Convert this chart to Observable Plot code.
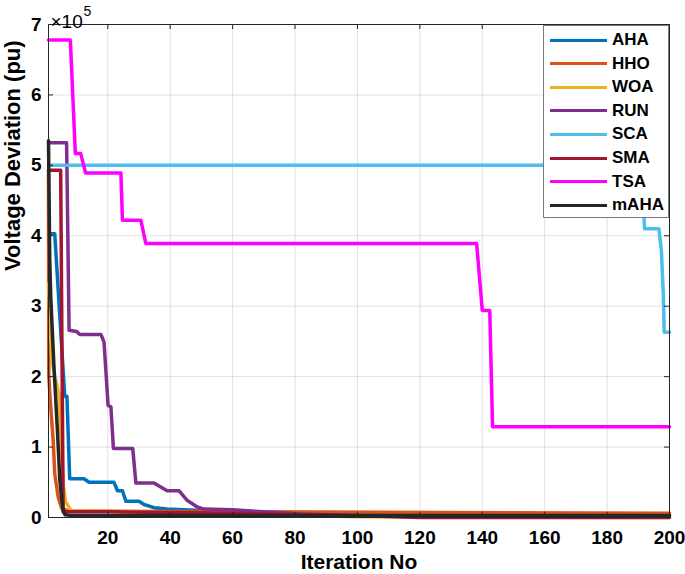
<!DOCTYPE html>
<html><head><meta charset="utf-8">
<script src="https://cdn.jsdelivr.net/npm/d3@7"></script>
<script src="https://cdn.jsdelivr.net/npm/@observablehq/plot@0.6"></script>
<style>
body{margin:0;background:#fff;font-family:"Liberation Sans",Arial,sans-serif;}
#wrap{position:relative;width:685px;height:574px;}
#legend{position:absolute;left:543px;top:25px;width:126px;height:193px;border:1px solid #7a7a7a;background:#fff;box-sizing:border-box;}
.sw{position:absolute;left:6px;width:57px;height:3px;}
.lab{position:absolute;left:68px;font-weight:bold;font-size:17px;color:#000;line-height:20px;white-space:nowrap;}
</style></head>
<body><div id="wrap"></div>
<script>
// Tick values
const iterTicks = [20,40,60,80,100,120,140,160,180,200];
const devTicks = [0,1,2,3,4,5,6,7];
const xLabel = "Iteration No";
const yLabel = "Voltage Deviation (pu)";
const expBase = "×10";
const expPow = "5";

// Series: [iteration, voltage deviation (×10^5)]
const AHA = [[1,4.03],[3,4.03],[6.2,1.72],[6.9,1.72],[7.8,0.55],[12.4,0.55],[14,0.50],[22,0.50],[23.1,0.38],[24.7,0.38],[25.8,0.23],[30,0.23],[31.6,0.185],[34.8,0.14],[39,0.12],[50,0.10],[60,0.05],[80,0.03],[200,0.03]];
const HHO = [[1,4.93],[1.1,2.0],[1.5,1.7],[2.5,1.09],[3,0.62],[4.1,0.29],[5.2,0.13],[7,0.10],[20,0.09],[200,0.06]];
const WOA = [[1,3.32],[2,2.28],[3,2.0],[4.4,1.75],[5.3,0.9],[5.8,0.43],[6.5,0.22],[7.5,0.15],[8.3,0.10],[20,0.09],[60,0.05],[100,0.01],[200,0.0]];
const RUN = [[1,5.32],[6.8,5.32],[7.6,2.66],[10,2.64],[11,2.60],[17.8,2.60],[18.8,2.49],[20.1,1.59],[21,1.57],[21.8,0.98],[28,0.98],[29,0.49],[34.8,0.49],[37.5,0.42],[39,0.38],[42.8,0.38],[45.5,0.24],[48.7,0.15],[50.8,0.12],[60,0.11],[70,0.08],[82,0.05],[100,0.03],[140,0.02],[200,0.02]];
const SCA = [[1,5.0],[191.2,5.0],[192,4.10],[196.6,4.10],[197.4,3.79],[198,3.18],[198.3,2.63],[200,2.63]];
const SMA = [[1,4.93],[4.9,4.93],[5.7,0.08],[20,0.08],[60,0.06],[100,0.03],[120,0.0],[200,0.0]];
const TSA = [[1,6.78],[8,6.78],[9.6,5.17],[11.3,5.17],[12.9,4.89],[24.2,4.89],[24.7,4.22],[30.6,4.22],[32.2,3.89],[138.2,3.89],[140,2.94],[142.4,2.94],[143.3,1.29],[200,1.29]];
const mAHA = [[1,5.35],[1.4,3.65],[1.75,3.1],[2.8,2.1],[3.9,1.2],[4.6,0.55],[5.2,0.28],[5.7,0.1],[6.3,0.04],[8,0.03],[200,0.03]];

const seriesNames = ["AHA","HHO","WOA","RUN","SCA","SMA","TSA","mAHA"];
const seriesColors = ["#0072BD","#D95319","#EDB120","#7E2F8E","#4DBEEE","#A2142F","#FF00FF","#262626"];
const seriesData = [AHA,HHO,WOA,RUN,SCA,SMA,TSA,mAHA];

const W=685,H=574,mL=48,mR=16,mT=24,mB=57;
const fw=W-mL-mR, fh=H-mT-mB;
const axisColor="#262626";

const lines = seriesData.map((pts,i)=>Plot.line(pts,{x:d=>d[0],y:d=>d[1],stroke:seriesColors[i],strokeWidth:3.5,strokeLinejoin:"round"}));

const chart = Plot.plot({
  width:W,height:H,marginLeft:mL,marginRight:mR,marginTop:mT,marginBottom:mB,
  style:{fontFamily:"'Liberation Sans', Arial, sans-serif",color:"#000",background:"#fff"},
  x:{domain:[1,200]},
  y:{domain:[0,7]},
  marks:[
    Plot.gridX(iterTicks,{stroke:"#000",strokeOpacity:0.12}),
    Plot.gridY(devTicks,{stroke:"#000",strokeOpacity:0.12}),
    ...lines,
    Plot.frame({stroke:axisColor}),
    Plot.ruleX(iterTicks,{stroke:axisColor,insetTop:fh-5}),
    Plot.ruleX(iterTicks,{stroke:axisColor,insetBottom:fh-5}),
    Plot.ruleY(devTicks,{stroke:axisColor,insetRight:fw-5}),
    Plot.ruleY(devTicks,{stroke:axisColor,insetLeft:fw-5}),
    Plot.axisX(iterTicks,{tickSize:0,tickPadding:13,fontSize:19,fontWeight:"bold",label:null,fill:"#000",tickFormat:d=>String(d)}),
    Plot.axisY(devTicks,{tickSize:0,tickPadding:7,fontSize:19,fontWeight:"bold",label:null,fill:"#000",tickFormat:d=>String(d)}),
    Plot.text([xLabel],{frameAnchor:"bottom",dy:51,fontSize:21,fontWeight:"bold",fill:"#000"}),
    Plot.text([yLabel],{frameAnchor:"left",dx:-36,rotate:-90,fontSize:22,fontWeight:"bold",fill:"#000"}),
    Plot.text([expBase],{frameAnchor:"top-left",dx:2,dy:-10,textAnchor:"start",fontSize:19,fill:"#000"}),
    Plot.text([expPow],{frameAnchor:"top-left",dx:35,dy:-18,textAnchor:"start",fontSize:14,fill:"#000"})
  ]
});
const wrap=document.getElementById("wrap");
wrap.appendChild(chart);

// Legend overlay
const leg=document.createElement("div");
leg.id="legend";
seriesNames.forEach((n,i)=>{
  const cy=14+i*23.6;
  const sw=document.createElement("div");
  sw.className="sw";sw.style.top=(cy-1.5)+"px";sw.style.background=seriesColors[i];
  const lb=document.createElement("div");
  lb.className="lab";lb.style.top=(cy-10)+"px";lb.textContent=n;
  leg.appendChild(sw);leg.appendChild(lb);
});
wrap.appendChild(leg);
</script></body></html>
